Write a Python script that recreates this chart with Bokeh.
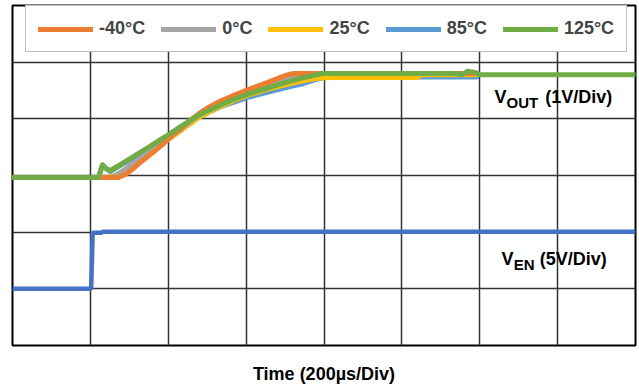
from bokeh.plotting import figure
from bokeh.models import Range1d, FixedTicker, Legend, LegendItem, Label, Grid, LinearAxis
from bokeh.embed import file_html
from bokeh.resources import INLINE

# time in microseconds (200 us/div), EN edge at t = 0
time_ticks = [-200, 0, 200, 400, 600, 800, 1000, 1200, 1400]
# VOUT in volts (1 V/div), zero at third division
vout_ticks = [-3, -2, -1, 0, 1, 2, 3]

series_names = ["-40°C", "0°C", "25°C", "85°C", "125°C"]
series_colors = ["#ED7D31", "#A5A5A5", "#FFC000", "#5B9BD5", "#70AD47"]

t_m40 = [-200, 72, 90, 110, 128, 154, 179, 205, 231, 256, 282, 308, 333, 367, 410, 454, 487, 513, 526, 992]
v_m40 = [-0.035, -0.035, 0.02, 0.12, 0.23, 0.37, 0.51, 0.67, 0.83, 0.97, 1.11, 1.22, 1.31, 1.41, 1.53, 1.64, 1.73, 1.79, 1.80, 1.80]

t_0 = [-200, 56, 77, 103, 128, 154, 179, 205, 231, 256, 282, 308, 333, 367, 410, 454, 495, 538, 577, 992]
v_0 = [-0.035, -0.035, 0.05, 0.18, 0.30, 0.42, 0.55, 0.68, 0.81, 0.95, 1.08, 1.18, 1.28, 1.38, 1.49, 1.59, 1.68, 1.75, 1.80, 1.80]

t_25 = [-200, 46, 64, 90, 115, 141, 167, 192, 218, 244, 282, 321, 367, 410, 454, 500, 538, 577, 615, 838, 851, 992]
v_25 = [-0.035, -0.035, 0.00, 0.11, 0.23, 0.35, 0.48, 0.60, 0.72, 0.85, 1.04, 1.18, 1.32, 1.43, 1.52, 1.60, 1.66, 1.71, 1.73, 1.73, 1.78, 1.78]

t_85 = [-200, 21, 31, 41, 51, 77, 103, 128, 154, 179, 205, 231, 256, 282, 308, 333, 367, 410, 462, 513, 546, 577, 608, 992]
v_85 = [-0.035, -0.035, 0.18, 0.12, 0.07, 0.18, 0.28, 0.39, 0.49, 0.60, 0.71, 0.82, 0.94, 1.04, 1.13, 1.21, 1.29, 1.39, 1.48, 1.57, 1.62, 1.69, 1.74, 1.74]

t_125 = [-200, 21, 31, 41, 51, 77, 103, 128, 154, 179, 205, 231, 256, 282, 308, 333, 367, 410, 454, 495, 538, 569, 597,
         936, 954, 969, 987, 1000, 1400]
v_125 = [-0.035, -0.035, 0.19, 0.12, 0.088, 0.19, 0.30, 0.41, 0.52, 0.63, 0.74, 0.86, 0.97, 1.08, 1.16, 1.24, 1.34, 1.45, 1.54, 1.63, 1.71, 1.76, 1.80,
         1.80, 1.78, 1.84, 1.82, 1.78, 1.78]

# EN in volts (5 V/div), zero at first division
ven_t = [-200, 2, 6, 28, 32, 1400]
ven_v = [0, 0, 4.95, 4.95, 5.03, 5.03]

FONT = "Liberation Sans"

p = figure(width=639, height=392, output_backend="svg", toolbar_location=None,
           x_range=Range1d(-200, 1400), y_range=Range1d(-3, 3),
           x_axis_location=None, y_axis_location=None,
           min_border_left=12, min_border_right=4, min_border_top=5, min_border_bottom=47)
p.extra_y_ranges = {"ven": Range1d(-5, 25)}
p.outline_line_color = "#000000"
p.outline_line_width = 2
p.background_fill_color = "white"
p.border_fill_color = "white"

xaxis = LinearAxis(ticker=FixedTicker(ticks=[]), axis_label="Time (200µs/Div)",
                   axis_line_color=None, major_tick_out=0, major_tick_in=0,
                   minor_tick_out=0, minor_tick_in=0, major_label_standoff=0,
                   axis_label_standoff=18, axis_label_text_font=FONT,
                   axis_label_text_font_style="bold", axis_label_text_font_size="18px",
                   axis_label_text_color="#000000")
p.add_layout(xaxis, "below")

p.center = [r for r in p.center if not isinstance(r, Grid)]
p.add_layout(Grid(dimension=0, ticker=FixedTicker(ticks=time_ticks),
                  grid_line_color="#333333", grid_line_width=1.5))
p.add_layout(Grid(dimension=1, ticker=FixedTicker(ticks=vout_ticks),
                  grid_line_color="#333333", grid_line_width=1.5))

p.line(ven_t, ven_v, y_range_name="ven", line_color="#4472C4", line_width=4.5)

data = {
    "-40°C": (t_m40, v_m40),
    "0°C": (t_0, v_0),
    "25°C": (t_25, v_25),
    "85°C": (t_85, v_85),
    "125°C": (t_125, v_125),
}
draw_order = ["85°C", "25°C", "0°C", "-40°C", "125°C"]
rends = {}
for name in draw_order:
    t, v = data[name]
    col = series_colors[series_names.index(name)]
    rends[name] = p.line(t, v, line_color=col, line_width=5, line_cap="round", line_join="round")

legend = Legend(items=[LegendItem(label=n, renderers=[rends[n]]) for n in series_names],
                orientation="horizontal", location=(13, 293),
                glyph_width=55, glyph_height=20, label_standoff=6, spacing=16, padding=12,
                label_text_font=FONT, label_text_font_style="bold", label_text_font_size="18px",
                border_line_color="#7f7f7f", border_line_width=1.5,
                background_fill_color="white", background_fill_alpha=1.0)
p.add_layout(legend)

def lab(x, y, text, size, align="left"):
    p.add_layout(Label(x=x, y=y, text=text, text_font=FONT, text_font_style="bold",
                       text_font_size=size, text_color="#000000", text_align=align,
                       text_baseline="alphabetic"))

lab(1038, 1.39, "V", "18px")
lab(1069, 1.29, "OUT", "15px")
lab(1168, 1.39, "(1V/Div)", "18px")

lab(1056, -1.48, "V", "18px")
lab(1087, -1.57, "EN", "15px")
lab(1154, -1.48, "(5V/Div)", "18px")

open("out.html", "w").write(file_html(p, INLINE))
